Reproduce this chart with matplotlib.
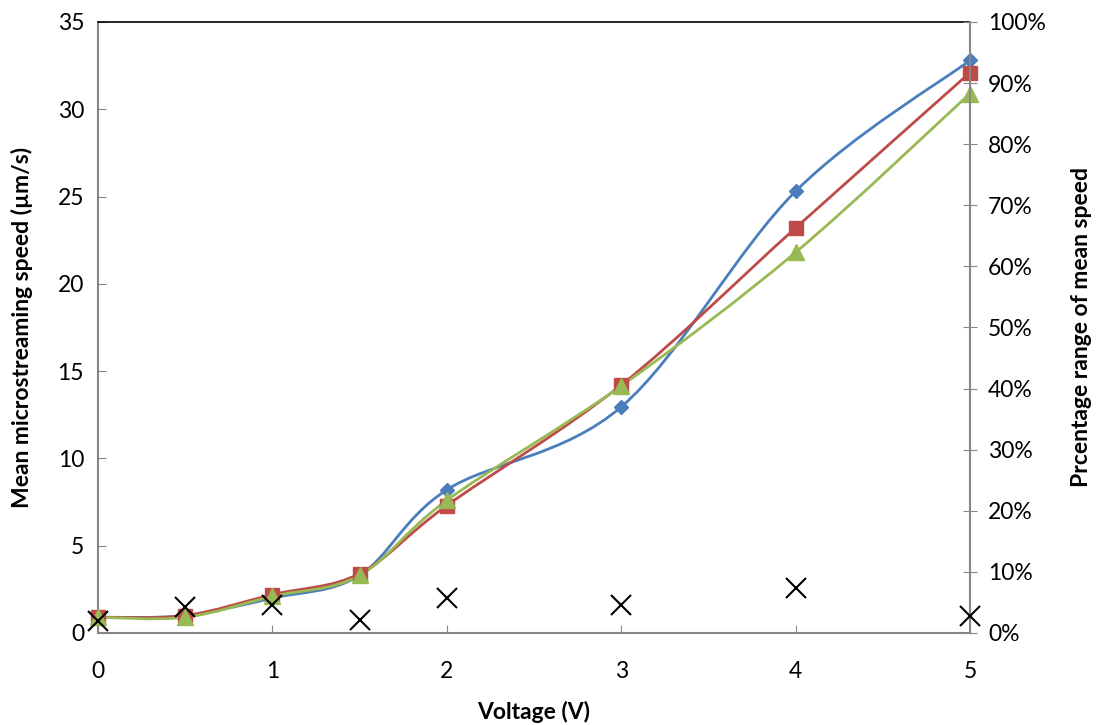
import numpy as np
import matplotlib
matplotlib.use("Agg")
import matplotlib.pyplot as plt
from matplotlib.path import Path
from matplotlib.patches import PathPatch
from matplotlib.ticker import FuncFormatter

# --- Data ---
voltage = [0, 0.5, 1, 1.5, 2, 3, 4, 5]
speed_blue = [0.9, 1.0, 2.0, 3.3, 8.2, 12.95, 25.3, 32.8]
speed_red = [0.9, 1.0, 2.2, 3.4, 7.3, 14.2, 23.2, 32.1]
speed_green = [0.9, 0.9, 2.1, 3.3, 7.6, 14.15, 21.8, 30.9]
pct_range = [1.9, 4.3, 4.6, 2.1, 5.7, 4.6, 7.3, 2.7]

plt.rcParams["font.family"] = ["Lato", "DejaVu Sans"]
GRAY = "#868686"


def smooth_path(x, y):
    # Excel-style smoothed line: cubic Bezier with 1/6 neighbour tangents
    pts = np.column_stack([x, y]).astype(float)
    n = len(pts)
    verts = [pts[0]]
    codes = [Path.MOVETO]
    for i in range(n - 1):
        p0 = pts[max(i - 1, 0)]
        p1 = pts[i]
        p2 = pts[i + 1]
        p3 = pts[min(i + 2, n - 1)]
        c1 = p1 + (p2 - p0) / 6.0
        c2 = p2 - (p3 - p1) / 6.0
        verts += [c1, c2, p2]
        codes += [Path.CURVE4] * 3
    return Path(verts, codes)


fig = plt.figure(figsize=(10.96, 7.25), dpi=100)
ax = fig.add_axes([0.0894, 0.1269, 0.7956, 0.8428])

series = [
    (speed_blue, "#4a7ebb", "D", 7.5),
    (speed_red, "#be4b48", "s", 10),
    (speed_green, "#98b954", "^", 11),
]
for vals, col, mk, ms in series:
    ax.add_patch(PathPatch(smooth_path(voltage, vals), facecolor="none",
                           edgecolor=col, lw=2, zorder=3))
    ax.plot(voltage, vals, linestyle="none", marker=mk, color=col,
            markersize=ms, zorder=4, clip_on=False)

ax.set_xlim(0, 5)
ax.set_ylim(0, 35)
ax.set_xticks(range(0, 6))
ax.set_yticks(range(0, 36, 5))
ax.set_xlabel("Voltage (V)", fontsize=16.5, fontweight="bold", labelpad=14)
ax.set_ylabel("Mean microstreaming speed (\u00b5m/s)", fontsize=16.5,
              fontweight="bold", labelpad=18)
ax.tick_params(axis="both", direction="in", length=6, color=GRAY,
               labelsize=16.5, pad=10)
ax.tick_params(axis="x", pad=20)
for side in ["left", "bottom"]:
    ax.spines[side].set_color(GRAY)
    ax.spines[side].set_linewidth(1.5)
ax.spines["top"].set_color("black")
ax.spines["top"].set_linewidth(1.2)
ax.spines["right"].set_visible(False)

ax2 = ax.twinx()
ax2.plot(voltage, pct_range, linestyle="none", marker="x", color="black",
         markersize=14, markeredgewidth=1.5, zorder=5, clip_on=False)
ax2.set_ylim(0, 100)
ax2.set_yticks(range(0, 101, 10))
ax2.yaxis.set_major_formatter(FuncFormatter(lambda v, p: f"{int(v)}%"))
ax2.set_ylabel("Prcentage range of mean speed", fontsize=16.5,
               fontweight="bold", labelpad=18)
ax2.tick_params(axis="y", direction="inout", length=10, color=GRAY,
                labelsize=16.5, pad=8)
for side in ["left", "bottom", "top"]:
    ax2.spines[side].set_visible(False)
ax2.spines["right"].set_color(GRAY)
ax2.spines["right"].set_linewidth(1.5)

fig.savefig("out.png", dpi=100)
